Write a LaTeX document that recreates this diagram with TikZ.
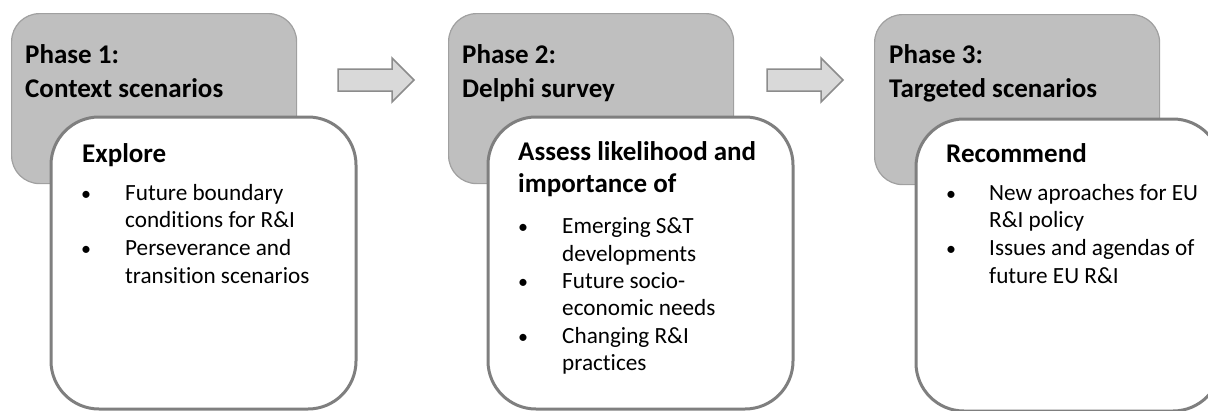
\documentclass[tikz,border=0pt]{standalone}
\usepackage{fontspec}
\setmainfont{Carlito}[RawFeature={-liga;-clig;-dlig}]
\definecolor{phasefill}{HTML}{BFBFBF}
\definecolor{phaseborder}{HTML}{A0A0A0}
\definecolor{cardborder}{HTML}{7F7F7F}
\definecolor{arrowfill}{HTML}{D9D9D9}
\definecolor{arrowborder}{HTML}{8C8C8C}
\newcommand{\headfont}{\fontsize{27}{32}\selectfont\bfseries}
\newcommand{\itemfont}{\fontsize{23.2}{28}\selectfont}
\tikzset{
  phase/.style={draw=phaseborder, fill=phasefill, line width=1.2pt, rounded corners=28pt,
    minimum width=285pt, minimum height=170pt, anchor=north west, inner sep=0pt},
  card/.style={draw=cardborder, fill=white, line width=3pt, rounded corners=48pt,
    minimum width=305pt, minimum height=292pt, anchor=north west, inner sep=0pt},
  blockarrow/.style={draw=arrowborder, fill=arrowfill, line width=1.5pt, line join=miter},
  head/.style={font=\headfont, anchor=base west, inner sep=0pt},
  item/.style={font=\itemfont, anchor=base west, inner sep=0pt},
  dot/.style={font=\fontsize{20}{24}\selectfont, anchor=base west, inner sep=0pt},
}
\begin{document}
\begin{tikzpicture}[x=1pt,y=-1pt]
\useasboundingbox (0,0) rectangle (1208,410);

% phase boxes
\node[phase] (ph1) at (11,13) {};
\node[phase] (ph2) at (448,13) {};
\node[phase] (ph3) at (874,14) {};

% phase titles
\node[head] (t1a) at (25,63) {Phase 1:};
\node[head] (t1b) at (25,97) {Context scenarios};
\node[head] (t2a) at (462,63) {Phase 2:};
\node[head] (t2b) at (462,97) {Delphi survey};
\node[head] (t3a) at (889,63) {Phase 3:};
\node[head] (t3b) at (889,97) {Targeted scenarios};

% cards
\node[card] (cd1) at (49.5,115.5) {};
\node[card] (cd2) at (486.5,115.5) {};
\node[card] (cd3) at (914.5,117.5) {};

% block arrows
\coordinate (a1) at (338,80);
\coordinate (a2) at (767,80);
\foreach \a in {a1,a2}{
  \draw[blockarrow] (\a) ++(0,-11) -- ++(54,0) -- ++(0,-11) -- ++(22,22) -- ++(-22,22)
    -- ++(0,-11) -- ++(-54,0) -- cycle;
}

% card 1
\node[head] (h1) at (82,162) {Explore};
\node[dot] (b1a) at (81,200) {•};
\node[item] (l1a) at (125,200) {Future boundary};
\node[item] (l1b) at (125,227) {conditions for R\&I};
\node[dot] (b1b) at (81,255) {•};
\node[item] (l1c) at (125,255) {Perseverance and};
\node[item] (l1d) at (125,283) {transition scenarios};

% card 2
\node[head] (h2a) at (518,160) {Assess likelihood and};
\node[head] (h2b) at (518,192) {importance of};
\node[dot] (b2a) at (518,233) {•};
\node[item] (l2a) at (562,233) {Emerging S\&T};
\node[item] (l2b) at (562,261) {developments};
\node[dot] (b2b) at (518,288) {•};
\node[item] (l2c) at (562,288) {Future socio-};
\node[item] (l2d) at (562,315) {economic needs};
\node[dot] (b2c) at (518,343) {•};
\node[item] (l2e) at (562,343) {Changing R\&I};
\node[item] (l2f) at (562,370) {practices};

% card 3
\node[head] (h3) at (946,162) {Recommend};
\node[dot] (b3a) at (946,200) {•};
\node[item] (l3a) at (989,200) {New aproaches for EU};
\node[item] (l3b) at (989,227) {R\&I policy};
\node[dot] (b3b) at (946,255) {•};
\node[item] (l3c) at (989,255) {Issues and agendas of};
\node[item] (l3d) at (989,283) {future EU R\&I};
\end{tikzpicture}
\end{document}
